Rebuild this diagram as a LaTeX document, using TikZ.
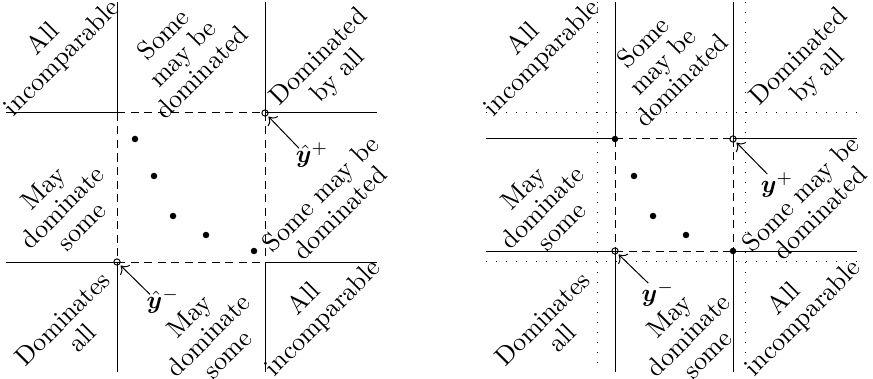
\documentclass[tikz,border=0pt]{standalone}
\usepackage{bm}
\usetikzlibrary{arrows.meta}
\begin{document}
\begin{tikzpicture}[x=0.4pt,y=-0.4pt,
  solidline/.style={line width=0.4pt},
  boxline/.style={line width=0.4pt, dash pattern=on 3.2pt off 2.2pt},
  guideline/.style={line width=0.4pt, dash pattern=on 0.4pt off 3.6pt},
  point/.style={circle, fill, inner sep=0pt, minimum size=2.6pt},
  refpoint/.style={circle, draw, line width=0.4pt, inner sep=0pt, minimum size=2.5pt},
  region/.style={rotate=45, align=center, inner sep=0pt, font=\fontsize{10.4}{10.8}\selectfont},
  reflabel/.style={inner sep=0pt, font=\fontsize{10.4}{12}\selectfont},
  pointer/.style={line width=0.4pt, -{To[length=2.7pt]}, shorten >=0.6pt},
]
\useasboundingbox (0,0) rectangle (873,379);

% ---------- left panel: ideal and nadir box ----------
\draw[solidline] (6,113) -- (117,113) (265,113) -- (377,113)
                 (6,262) -- (117,262) (265,262) -- (377,262)
                 (117,2) -- (117,113) (117,262) -- (117,372)
                 (265,2) -- (265,113) (265,262) -- (265,372);
\draw[boxline] (117,113) -- (265,113) (117,262) -- (265,262)
               (117,113) -- (117,262) (265,113) -- (265,262);

\node[refpoint] (Lplus) at (265,113) {};
\node[refpoint] (Lminus) at (117,262) {};
\foreach \px/\py [count=\i] in {135/139, 154/176, 173/216, 206/235, 254/251}
  \node[point] (Lp\i) at (\px,\py) {};

\node[reflabel] (Lpl) at (312,155) {$\hat{\bm y}^+$};
\node[reflabel] (Lml) at (163,301) {$\hat{\bm y}^-$};
\draw[pointer] ([shift={(1.5pt,-2.5pt)}]Lpl.north west) -- (Lplus);
\draw[pointer] ([shift={(1.5pt,-2.5pt)}]Lml.north west) -- (Lminus);

\node[region] (L1) at (53,49)   {All\\incomparable};
\node[region] (L2) at (182,53)  {Some\\may be\\dominated};
\node[region] (L3) at (329,67)  {Dominated\\by all};
\node[region] (L4) at (62,207)  {May\\dominate\\some};
\node[region] (L5) at (330,203) {Some may be\\dominated};
\node[region] (L6) at (72,328)  {Dominates\\all};
\node[region] (L7) at (208,335) {May\\dominate\\some};
\node[region] (L8) at (314,309) {All\\incomparable};

% ---------- right panel: box spanned by the points ----------
\draw[guideline] (486,113) -- (857,113) (486,261) -- (857,261)
                 (597,2) -- (597,372) (745,2) -- (745,372);
\draw[solidline] (486,139) -- (615,139) (733,139) -- (857,139)
                 (486,251) -- (615,251) (733,251) -- (857,251)
                 (615,2) -- (615,139) (615,251) -- (615,372)
                 (733,2) -- (733,139) (733,251) -- (733,372);
\draw[boxline] (615,139) -- (733,139) (615,251) -- (733,251)
               (615,139) -- (615,251) (733,139) -- (733,251);

\node[point] (Rc1) at (615,139) {};
\node[point] (Rc2) at (733,251) {};
\node[refpoint] (Rplus) at (733,139) {};
\node[refpoint] (Rminus) at (615,251) {};
\foreach \px/\py [count=\i] in {634/176, 653/216, 686/235}
  \node[point] (Rp\i) at (\px,\py) {};

\node[reflabel] (Rpl) at (777,185) {$\bm y^+$};
\node[reflabel] (Rml) at (658,294) {$\bm y^-$};
\draw[pointer] ([shift={(2.8pt,-0.8pt)}]Rpl.north west) -- (Rplus);
\draw[pointer] ([shift={(2.8pt,-0.8pt)}]Rml.north west) -- (Rminus);

\node[region] (R1) at (533,49)  {All\\incomparable};
\node[region] (R2) at (662,61)  {Some\\may be\\dominated};
\node[region] (R3) at (809,67)  {Dominated\\by all};
\node[region] (R4) at (542,207) {May\\dominate\\some};
\node[region] (R5) at (810,203) {Some may be\\dominated};
\node[region] (R6) at (552,328) {Dominates\\all};
\node[region] (R7) at (688,335) {May\\dominate\\some};
\node[region] (R8) at (794,309) {All\\incomparable};
\end{tikzpicture}
\end{document}
